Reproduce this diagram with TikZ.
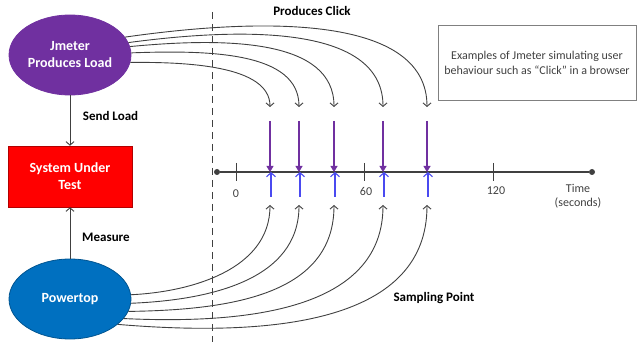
\documentclass[tikz,border=0pt]{standalone}
\usepackage{fontspec}
\setmainfont{Carlito}
\usetikzlibrary{arrows.meta,shapes.geometric}
\definecolor{jmpurple}{HTML}{7030A0}
\definecolor{ptblue}{HTML}{0070C0}
\definecolor{sutred}{HTML}{FF0000}
\definecolor{linegray}{HTML}{404040}
\definecolor{clickblue}{HTML}{4A4AF0}
\begin{document}
\begin{tikzpicture}[x=1pt,y=-1pt,
  ellip/.style={ellipse, minimum width=122pt, minimum height=80pt, inner sep=0pt,
    text=white, font=\fontsize{14}{17}\selectfont\bfseries, align=center, line width=0.8pt},
  sutbox/.style={rectangle, minimum width=124pt, minimum height=61pt, inner sep=0pt,
    fill=sutred, draw=sutred!70!black, line width=0.5pt, text=white,
    font=\fontsize{14}{17}\selectfont\bfseries, align=center},
  lbl/.style={font=\fontsize{13}{15}\selectfont\bfseries, text=black, inner sep=0pt},
  small/.style={font=\fontsize{12}{14.5}\selectfont, text=linegray, inner sep=0pt, align=center},
  conn/.style={draw=linegray, line width=0.9pt, -{Straight Barb[length=3.5pt,width=8pt]}},
  curve/.style={draw=linegray, line width=0.9pt, -{Straight Barb[length=3.5pt,width=8pt]}},
  purplearrow/.style={draw=jmpurple, line width=1.1pt, -{Triangle[length=6pt,width=7pt]}},
  bluearrow/.style={draw=clickblue, line width=1.1pt, -{Straight Barb[length=4pt,width=9pt]}},
  dotnode/.style={circle, fill=linegray, inner sep=0pt, minimum size=6pt},
]
\useasboundingbox (0,0) rectangle (638,342);

% main nodes
\node[ellip, fill=jmpurple, draw=jmpurple] (jm) at (70,55) {Jmeter\\Produces Load};
\node[sutbox] (sut) at (70,176.5) {System Under\\Test};
\node[ellip, fill=ptblue, draw=ptblue!75!black] (pt) at (70,299) {Powertop};

\draw[conn] (jm.south) -- (sut.north);
\draw[conn] (pt.north) -- (sut.south);
\node[lbl] (sendlbl) at (110.5,116) {Send Load};
\node[lbl] (measlbl) at (106,237) {Measure};

% dashed divider
\coordinate (dtop) at (212,12);
\coordinate (dbot) at (212,342);
\draw[linegray, line width=1pt, dash pattern=on 7pt off 5pt] (dtop) -- (dbot);

% timeline
\node[dotnode] (t0) at (217,172) {};
\node[dotnode] (t1) at (592,172) {};
\draw[linegray, line width=1.3pt] (t0) -- (t1);
\draw[linegray, line width=1pt] (236,163) -- (236,181);
\draw[linegray, line width=1pt] (364,163) -- (364,181);
\draw[linegray, line width=0.6pt] (493,163) -- (493,181);
\node[small] (l0) at (236,194) {0};
\node[small] (l60) at (366,191) {60};
\node[small] (l120) at (496,191) {120};
\node[small] (ltime) at (578,196) {Time\\(seconds)};

% click points
\foreach \x [count=\i] in {270,299,334,383,427} {
  \coordinate (c\i) at (\x,107);
  \coordinate (pu\i) at (\x,121);
  \coordinate (tl\i) at (\x,172);
  \coordinate (bl\i) at (\x+1,197);
  \coordinate (bt\i) at (\x+1,172);
  \coordinate (s\i) at (\x,205);
  \draw[purplearrow] (pu\i) -- (tl\i);
  \draw[bluearrow] (bl\i) -- (bt\i);
}

% jmeter curves
\draw[curve] (jm.18) .. controls (280,15) and (427,20) .. (c5);
\draw[curve] (jm.12) .. controls (260,25) and (383,30) .. (c4);
\draw[curve] (jm.8) .. controls (230,37) and (334,40) .. (c3);
\draw[curve] (jm.2) .. controls (210,50) and (299,52) .. (c2);
\draw[curve] (jm.-7) .. controls (185,62) and (270,65) .. (c1);

% powertop curves
\draw[curve] (pt.4) .. controls (190,292) and (270,270) .. (s1);
\draw[curve] (pt.-4) .. controls (210,300) and (299,280) .. (s2);
\draw[curve] (pt.-12) .. controls (230,310) and (334,295) .. (s3);
\draw[curve] (pt.-20) .. controls (260,325) and (383,305) .. (s4);
\draw[curve] (pt.-28) .. controls (280,338) and (427,320) .. (s5);

\node[lbl] (clicklbl) at (312,11) {Produces Click};
\node[lbl] (samplbl) at (434,298) {Sampling Point};

\node[draw=gray, line width=0.8pt, minimum width=198pt, minimum height=75pt, inner sep=0pt,
  font=\fontsize{12}{15}\selectfont, text=linegray, align=center] (ex) at (537,62.5)
  {Examples of Jmeter simulating user\\behaviour such as “Click” in a browser};
\end{tikzpicture}
\end{document}
